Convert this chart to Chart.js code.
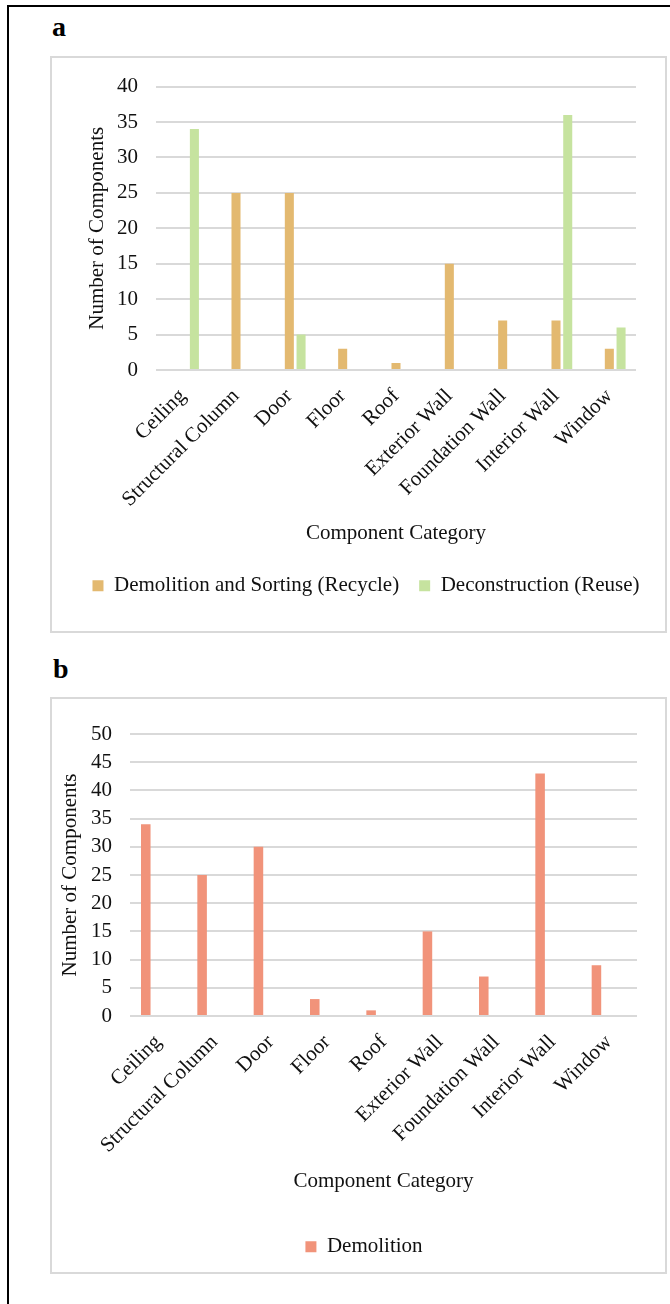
<!DOCTYPE html>
<html>
<head>
<meta charset="utf-8">
<script src="https://cdn.jsdelivr.net/npm/chart.js@4.4.0/dist/chart.umd.min.js"></script>
<style>
  html, body { margin: 0; padding: 0; background: #fff; }
  body { width: 670px; height: 1304px; position: relative; overflow: hidden;
         font-family: "Liberation Serif", "Times New Roman", serif; }
  .frame { position: absolute; left: 7px; top: 5px; width: 720px; height: 1340px;
           border-left: 2px solid #000; border-top: 2px solid #000; }
  .panel-label { position: absolute; font-weight: bold; font-size: 28px; line-height: 1; color: #000; }
  .box { position: absolute; left: 50px; width: 617px; height: 577px;
         border: 2px solid #d9d9d9; box-sizing: border-box; }
  canvas { position: absolute; left: 50px; }
</style>
</head>
<body>
<div class="frame"></div>

<div class="panel-label" style="left:52px; top:13px;">a</div>
<div class="box" style="top:56px;"></div>
<canvas id="chartA" width="615" height="576" style="top:56px;"></canvas>

<div class="panel-label" style="left:53px; top:655px;">b</div>
<div class="box" style="top:697px;"></div>
<canvas id="chartB" width="615" height="576" style="top:697px;"></canvas>

<script>
// Component categories (x axis)
const categories = ['Ceiling', 'Structural Column', 'Door', 'Floor', 'Roof',
  'Exterior Wall', 'Foundation Wall', 'Interior Wall', 'Window'];

// Number of components per end-of-life route
const demolition = [34, 25, 30, 3, 1, 15, 7, 43, 9];
const recycle    = [0, 25, 25, 3, 1, 15, 7, 7, 3];
const reuse      = [34, 0, 5, 0, 0, 0, 0, 36, 6];

// Y axis ranges
const yMaxA = 40;
const yMaxB = 50;
const yStep = 5;

const SERIF = '"Liberation Serif", "Times New Roman", serif';
const TEXT = '#111';
const GRID = '#d9d9d9';
const FONT = { size: 21, family: SERIF };

Chart.defaults.font.family = SERIF;
Chart.defaults.color = TEXT;

// The three routes always share the same cluster slots; a panel only fills
// the series it shows, the others keep their slot empty.
function buildDatasets(show) {
  return [
    { label: 'Demolition', data: show.demolition ? demolition : [], backgroundColor: '#f1937a' },
    { label: 'Demolition and Sorting (Recycle)', data: show.recycle ? recycle : [], backgroundColor: '#e3b970' },
    { label: 'Deconstruction (Reuse)', data: show.reuse ? reuse : [], backgroundColor: '#c6e39f' }
  ].map(d => Object.assign(d, {
    borderWidth: 0,
    categoryPercentage: 0.66,
    barPercentage: 0.77
  }));
}

function makeChart(id, datasets, cfg) {
  return new Chart(document.getElementById(id), {
    type: 'bar',
    data: { labels: categories, datasets },
    options: {
      responsive: false,
      animation: false,
      devicePixelRatio: 1,
      layout: { padding: { left: cfg.padLeft, right: 0, top: cfg.padTop, bottom: cfg.padBottom } },
      plugins: {
        tooltip: { enabled: false },
        legend: {
          position: 'bottom',
          labels: {
            boxWidth: 11, boxHeight: 11,
            padding: cfg.legendPad,
            font: FONT,
            color: TEXT,
            filter: (item, data) => data.datasets[item.datasetIndex].data.length > 0
          }
        }
      },
      scales: {
        x: {
          grid: { display: false, drawTicks: false },
          border: { display: false },
          ticks: { minRotation: 45, maxRotation: 45, autoSkip: false, padding: 14,
                   font: FONT, color: TEXT },
          title: { display: true, text: 'Component Category', color: TEXT,
                   font: FONT, padding: { top: 4, bottom: cfg.xTitleBottom } },
          afterFit: s => { s.height = cfg.xHeight; }
        },
        y: {
          min: 0, max: cfg.yMax,
          grid: { color: GRID, lineWidth: 2, drawTicks: false },
          border: { display: false },
          ticks: { stepSize: yStep, padding: 18, font: FONT, color: TEXT },
          title: { display: true, text: 'Number of Components', color: TEXT,
                   font: FONT, padding: { top: cfg.yTitleTop, bottom: 4 } },
          afterFit: s => { s.width = cfg.yWidth; }
        },
        // empty margin on the right of the plot area
        yRight: {
          type: 'linear',
          position: 'right',
          display: true,
          grid: { display: false, drawTicks: false },
          border: { display: false },
          ticks: { display: false },
          afterFit: s => { s.width = cfg.rightGap; }
        }
      }
    }
  });
}

makeChart('chartA', buildDatasets({ recycle: true, reuse: true }), {
  yMax: yMaxA, padLeft: 17, padTop: 29, padBottom: 25.7,
  yWidth: 89, yTitleTop: 18, rightGap: 29,
  xHeight: 185.3, xTitleBottom: 9.7, legendPad: 20
});

makeChart('chartB', buildDatasets({ demolition: true }), {
  yMax: yMaxB, padLeft: 13, padTop: 37, padBottom: 5.8,
  yWidth: 67, yTitleTop: -5, rightGap: 28,
  xHeight: 177.6, xTitleBottom: 0, legendPad: 42.6
});
</script>
</body>
</html>
